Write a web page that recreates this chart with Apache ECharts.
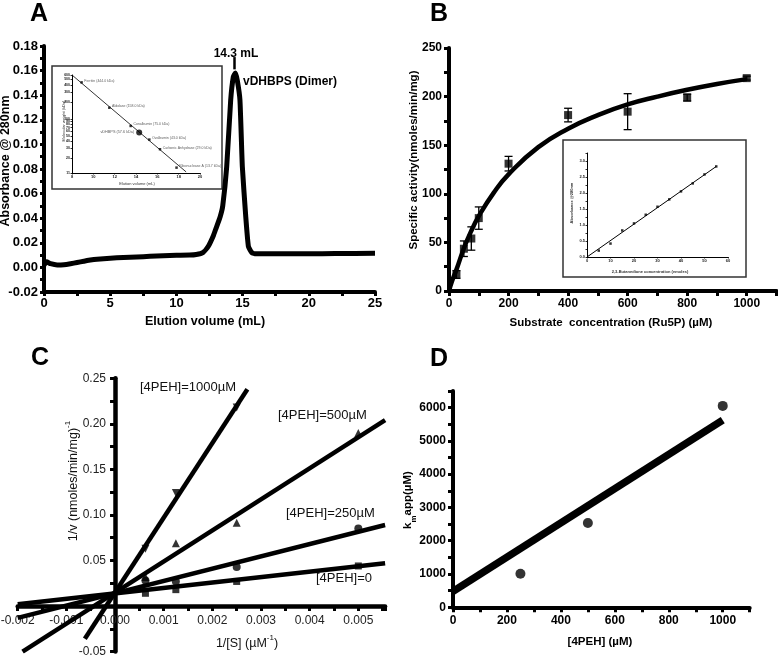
<!DOCTYPE html>
<html><head><meta charset="utf-8">
<script src="https://cdn.jsdelivr.net/npm/echarts@6/dist/echarts.min.js"></script>
<style>html,body{margin:0;padding:0;background:#fff}#c{width:778px;height:655px}</style>
</head><body><div id="c"></div>
<script>
// ---------- Panel A: elution profile ----------
const elutionVolume = [0, 0.2, 0.5, 1.0, 1.5, 2, 2.5, 3, 3.5, 4, 5, 6, 7, 8, 9, 10, 11, 11.5, 12, 12.4, 12.8, 13.0, 13.3, 13.5, 13.8, 14.1, 14.3, 14.45, 14.6, 14.8, 14.98, 15.24, 15.44, 15.7, 16, 18, 20, 22, 25];
const absorbance = [0.002, 0.0045, 0.003, 0.002, 0.0022, 0.003, 0.004, 0.005, 0.006, 0.0067, 0.0075, 0.008, 0.0085, 0.009, 0.0095, 0.0098, 0.010, 0.0105, 0.012, 0.017, 0.026, 0.032, 0.041, 0.050, 0.082, 0.136, 0.155, 0.158, 0.152, 0.136, 0.082, 0.041, 0.017, 0.012, 0.011, 0.011, 0.011, 0.0112, 0.0115];
const peakArrowX = [14.4, 14.4];
const peakArrowY = [0.171, 0.161];
// Panel A inset: calibration
const stdNames = ['Ferritin (444.0 kDa)', 'Aldolase (158.0 kDa)', 'Conalbumin (75.0 kDa)', 'Ovalbumin (43.0 kDa)', 'Carbonic Anhydrase (29.0 kDa)', 'Ribonuclease A (13.7 kDa)'];
const stdVolume = [8.9, 11.5, 13.5, 15.25, 16.25, 17.8];
const stdMW = [444, 158, 75, 43, 29, 13.7];
const sampleName = 'vDHBPS (57.6 kDa)';
const sampleVolume = [14.3];
const sampleMW = [57.6];
const calFitX = [8, 18.7];
const calFitY = [600, 11.5];
const calTicks = [11, 20, 30, 40, 50, 60, 70, 80, 90, 100, 200, 300, 400, 500, 600];

// ---------- Panel B: Michaelis-Menten ----------
const substrate = [25, 50, 75, 100, 200, 400, 600, 800, 1000];
const activity = [17, 43.5, 54, 75, 131, 181, 184.5, 199, 219];
const activityErr = [4, 8, 12, 11.5, 7.5, 7, 18.5, 3.5, 2];
const mmCurveX = [0, 10, 25, 50, 75, 100, 150, 200, 300, 400, 500, 600, 700, 800, 900, 1000];
const mmCurveY = [0, 10, 22, 44, 62, 77, 101, 120, 148, 167, 181, 192, 200, 207, 213, 218];
// Panel B inset: standard curve
const butanedione = [5, 10, 15, 20, 25, 30, 35, 40, 45, 50, 55];
const abs288 = [0.2, 0.42, 0.83, 1.05, 1.32, 1.57, 1.80, 2.05, 2.30, 2.58, 2.83];
const stdLineX = [0, 55];
const stdLineY = [0, 2.83];

// ---------- Panel C: Lineweaver-Burk ----------
const invS = [0.000625, 0.00125, 0.0025, 0.005];
const invV0 = [0.014, 0.018, 0.027, 0.044];
const invV250 = [0.028, 0.027, 0.043, 0.085];
const invV500 = [0.032, 0.069, 0.0915, 0.19];
const invS1000 = [0.000625, 0.00125, 0.0025];
const invV1000 = [0.063, 0.124, 0.218];
const fit0X = [-0.002, 0.00555], fit0Y = [0.002, 0.047];
const fit250X = [-0.002, 0.00555], fit250Y = [-0.013, 0.089];
const fit500X = [-0.0019, 0.00555], fit500Y = [-0.05, 0.204];
const fit1000X = [-0.00062, 0.00272], fit1000Y = [-0.036, 0.238];
const lineNames = ['[4PEH]=0', '[4PEH]=250\u00b5M', '[4PEH]=500\u00b5M', '[4PEH]=1000\u00b5M'];

// ---------- Panel D: Km app ----------
const inhibitor = [250, 500, 1000];
const kmApp = [1010, 2530, 6050];
const kmFitX = [0, 1000];
const kmFitY = [480, 5620];

const FONT = '"Liberation Sans", Arial, sans-serif';
const pts = (xs, ys) => xs.map((x, i) => [x, ys[i]]);
function merge(a, b) {
  const out = Object.assign({}, a);
  for (const k in b) {
    if (b[k] && typeof b[k] === 'object' && !Array.isArray(b[k]) && a[k] && typeof a[k] === 'object' && !Array.isArray(a[k])) out[k] = merge(a[k], b[k]);
    else out[k] = b[k];
  }
  return out;
}
function ax(extra) {
  return merge({
    type: 'value',
    axisLine: { show: true, onZero: false, lineStyle: { color: '#000', width: 4 } },
    axisTick: { show: true, length: 5, lineStyle: { color: '#000', width: 3 } },
    axisLabel: { color: '#000', fontFamily: FONT, fontWeight: 'bold', fontSize: 12, margin: 7 },
    splitLine: { show: false }
  }, extra);
}
function small(extra) {
  return ax(merge({
    z: 4,
    axisLine: { lineStyle: { width: 1 } },
    axisTick: { length: 1.5, lineStyle: { width: 0.8 } },
    axisLabel: { fontSize: 4, margin: 2, color: '#222' }
  }, extra));
}
const isMult = (v, step) => Math.abs(v / step - Math.round(v / step)) < 1e-6;

// Panel C grid geometry (axes cross at the origin)
const gC = { left: 17.7, top: 378.3, width: 367.4, height: 273.3 };
const cX = [-0.002, 0.00555], cY = [-0.05, 0.25];
const cYAxisOffset = -gC.width * (0 - cX[0]) / (cX[1] - cX[0]);
const cXAxisOffset = -gC.height * (0 - cY[0]) / (cY[1] - cY[0]);

const option = {
  animation: false,
  backgroundColor: '#fff',
  grid: [
    { left: 44, top: 46, width: 331, height: 246, outerBoundsMode: 'none' },
    { left: 72, top: 75, width: 128, height: 98, outerBoundsMode: 'none', z: 4 },
    { left: 449, top: 48, width: 327.5, height: 243, outerBoundsMode: 'none' },
    { left: 587, top: 153, width: 141, height: 104, outerBoundsMode: 'none', z: 4 },
    Object.assign({ outerBoundsMode: 'none' }, gC),
    { left: 453, top: 390.9, width: 296.7, height: 216.4, outerBoundsMode: 'none' }
  ],
  xAxis: [
    ax({ gridIndex: 0, min: 0, max: 25, interval: 2.5, axisTick: { length: 4 }, axisLabel: { fontSize: 13, margin: 5, formatter: v => isMult(v, 5) ? String(Math.round(v)) : '' } }),
    small({ gridIndex: 1, min: 8, max: 20, interval: 2 }),
    ax({ gridIndex: 2, min: 0, max: 1100, interval: 100, axisLabel: { formatter: v => (isMult(v, 200) && v <= 1000) ? String(v) : '' } }),
    small({ gridIndex: 3, min: 0, max: 60, interval: 10 }),
    ax({ gridIndex: 4, min: cX[0], max: cX[1], interval: 0.0005, position: 'bottom', offset: cXAxisOffset,
         axisLine: { lineStyle: { width: 4.5 } },
         axisLabel: { fontWeight: 'normal', color: '#222', fontSize: 12, margin: 9,
           formatter: v => { const k = Math.round(v * 2000); return (isMult(v, 0.0005) && k % 2 === 0 && v < 0.0053) ? (k / 2000).toFixed(3) : ''; } } }),
    ax({ gridIndex: 5, min: 0, max: 1100, interval: 100, axisLabel: { formatter: v => (isMult(v, 200) && v <= 1000) ? String(v) : '' } })
  ],
  yAxis: [
    ax({ gridIndex: 0, min: -0.02, max: 0.18, interval: 0.01, axisTick: { length: 4 }, axisLabel: { fontSize: 13, margin: 6, formatter: v => { const k = Math.round(v * 100); return k % 2 === 0 ? (k / 100).toFixed(2) : ''; } } }),
    small({ gridIndex: 1, type: 'log', logBase: 10, min: 11, max: 600,
            axisTick: { customValues: calTicks }, axisLabel: { customValues: calTicks, fontSize: 3.5, formatter: v => String(Math.round(v)) } }),
    ax({ gridIndex: 2, min: 0, max: 250, interval: 25, axisLabel: { formatter: v => isMult(v, 50) ? String(v) : '' } }),
    small({ gridIndex: 3, min: 0, max: 3.25, interval: 0.25, axisLabel: { formatter: v => { const k = Math.round(v * 4); return k % 2 === 0 ? (k / 4).toFixed(1) : ''; } } }),
    ax({ gridIndex: 4, min: cY[0], max: cY[1], interval: 0.025, position: 'left', offset: cYAxisOffset,
         axisLine: { lineStyle: { width: 4.5 } },
         axisLabel: { fontWeight: 'normal', color: '#222', fontSize: 12, margin: 9,
           formatter: v => { const k = Math.round(v * 40); return (k % 2 === 0 && k !== 0) ? (k / 40).toFixed(2) : ''; } } }),
    ax({ gridIndex: 5, min: 0, max: 6500, interval: 500, axisLabel: { formatter: v => isMult(v, 1000) ? String(v) : '' } })
  ],
  series: [
    // Panel A
    { type: 'line', xAxisIndex: 0, yAxisIndex: 0, data: pts(elutionVolume, absorbance), symbol: 'none', smooth: 0.15,
      lineStyle: { color: '#000', width: 5, join: 'round' }, z: 3,
      markLine: { silent: true, symbol: ['none', 'triangle'], symbolSize: [0, 8], label: { show: false },
        lineStyle: { color: '#000', width: 2.5, type: 'solid' },
        data: [[{ coord: [peakArrowX[0], peakArrowY[0]] }, { coord: [peakArrowX[1], peakArrowY[1]] }]] } },
    // Panel A inset
    { type: 'line', xAxisIndex: 1, yAxisIndex: 1, data: pts(calFitX, calFitY), symbol: 'none', z: 5,
      lineStyle: { color: '#000', width: 0.8 } },
    { type: 'scatter', xAxisIndex: 1, yAxisIndex: 1, z: 6, symbol: 'rect', symbolSize: 2.5, itemStyle: { color: '#000' },
      data: stdVolume.map((x, i) => ({ value: [x, stdMW[i]], name: stdNames[i] })),
      label: { show: true, position: 'right', distance: 1.5, offset: [0, -1.5], formatter: p => p.name, fontSize: 3.5, fontFamily: FONT, color: '#333' } },
    { type: 'scatter', xAxisIndex: 1, yAxisIndex: 1, z: 6, symbol: 'circle', symbolSize: 6, itemStyle: { color: '#000' },
      data: sampleVolume.map((x, i) => ({ value: [x, sampleMW[i]], name: sampleName })),
      label: { show: true, position: 'left', distance: 2, formatter: p => p.name, fontSize: 3.8, fontFamily: FONT, color: '#333' } },
    // Panel B
    { type: 'line', xAxisIndex: 2, yAxisIndex: 2, data: pts(mmCurveX, mmCurveY), symbol: 'none', smooth: true,
      lineStyle: { color: '#000', width: 4.5 }, z: 3 },
    { type: 'custom', xAxisIndex: 2, yAxisIndex: 2, z: 4,
      data: substrate.map((x, i) => [x, activity[i], activityErr[i]]),
      renderItem: (params, api) => {
        const x = api.value(0), y = api.value(1), e = api.value(2);
        const t = api.coord([x, y + e]), b = api.coord([x, y - e]);
        const st = { stroke: '#000', lineWidth: 1.3 };
        return { type: 'group', children: [
          { type: 'line', shape: { x1: t[0], y1: t[1], x2: b[0], y2: b[1] }, style: st },
          { type: 'line', shape: { x1: t[0] - 4, y1: t[1], x2: t[0] + 4, y2: t[1] }, style: st },
          { type: 'line', shape: { x1: b[0] - 4, y1: b[1], x2: b[0] + 4, y2: b[1] }, style: st }
        ] };
      } },
    { type: 'scatter', xAxisIndex: 2, yAxisIndex: 2, z: 5, symbol: 'rect', symbolSize: 8, itemStyle: { color: '#000' },
      data: pts(substrate, activity) },
    // Panel B inset
    { type: 'line', xAxisIndex: 3, yAxisIndex: 3, data: pts(stdLineX, stdLineY), symbol: 'none', z: 5,
      lineStyle: { color: '#000', width: 1 } },
    { type: 'scatter', xAxisIndex: 3, yAxisIndex: 3, z: 6, symbol: 'rect', symbolSize: 2.5, itemStyle: { color: '#000' },
      data: pts(butanedione, abs288) },
    // Panel C
    ...[[fit0X, fit0Y], [fit250X, fit250Y], [fit500X, fit500Y], [fit1000X, fit1000Y]].map(f => ({
      type: 'line', xAxisIndex: 4, yAxisIndex: 4, data: pts(f[0], f[1]), symbol: 'none', z: 3,
      lineStyle: { color: '#000', width: 4.5, cap: 'butt' } })),
    { type: 'scatter', xAxisIndex: 4, yAxisIndex: 4, z: 4, symbol: 'rect', symbolSize: 7, itemStyle: { color: '#000' }, data: pts(invS, invV0) },
    { type: 'scatter', xAxisIndex: 4, yAxisIndex: 4, z: 4, symbol: 'circle', symbolSize: 8, itemStyle: { color: '#000' }, data: pts(invS, invV250) },
    { type: 'scatter', xAxisIndex: 4, yAxisIndex: 4, z: 4, symbol: 'triangle', symbolSize: 8, itemStyle: { color: '#000' }, data: pts(invS, invV500) },
    { type: 'scatter', xAxisIndex: 4, yAxisIndex: 4, z: 4, symbol: 'triangle', symbolRotate: 180, symbolSize: 8, itemStyle: { color: '#000' }, data: pts(invS1000, invV1000) },
    // Panel D
    { type: 'line', xAxisIndex: 5, yAxisIndex: 5, data: pts(kmFitX, kmFitY), symbol: 'none', z: 3,
      lineStyle: { color: '#000', width: 7.5, cap: 'butt' } },
    { type: 'scatter', xAxisIndex: 5, yAxisIndex: 5, z: 4, symbol: 'circle', symbolSize: 10, itemStyle: { color: '#000' }, data: pts(inhibitor, kmApp) }
  ],
  graphic: [
    // inset frames
    { type: 'rect', z: 1, shape: { x: 52, y: 66, width: 170, height: 123 }, style: { fill: '#fff', stroke: '#333', lineWidth: 1.5 } },
    { type: 'rect', z: 1, shape: { x: 563, y: 140, width: 183, height: 137 }, style: { fill: '#fff', stroke: '#333', lineWidth: 1.5 } },
    // panel letters
    { type: 'text', z: 10, x: 30, y: 14, style: { text: 'A', font: 'bold 25px ' + FONT, fill: '#000', verticalAlign: 'middle' } },
    { type: 'text', z: 10, x: 430, y: 14, style: { text: 'B', font: 'bold 25px ' + FONT, fill: '#000', verticalAlign: 'middle' } },
    { type: 'text', z: 10, x: 31, y: 358, style: { text: 'C', font: 'bold 25px ' + FONT, fill: '#000', verticalAlign: 'middle' } },
    { type: 'text', z: 10, x: 430, y: 359, style: { text: 'D', font: 'bold 25px ' + FONT, fill: '#000', verticalAlign: 'middle' } },
    // panel A annotations
    { type: 'text', z: 10, x: 236, y: 54, style: { text: '14.3 mL', font: 'bold 12px ' + FONT, fill: '#000', align: 'center', verticalAlign: 'middle' } },
    { type: 'text', z: 10, x: 243, y: 82, style: { text: 'vDHBPS (Dimer)', font: 'bold 12px ' + FONT, fill: '#000', verticalAlign: 'middle' } },
    // axis names A
    { type: 'text', z: 10, x: 6, y: 161, rotation: Math.PI / 2, style: { text: 'Absorbance @ 280nm', font: 'bold 12.5px ' + FONT, fill: '#000', align: 'center', verticalAlign: 'middle' } },
    { type: 'text', z: 10, x: 205, y: 322, style: { text: 'Elution volume (mL)', font: 'bold 12.5px ' + FONT, fill: '#000', align: 'center', verticalAlign: 'middle' } },
    { type: 'text', z: 10, x: 64, y: 121, rotation: Math.PI / 2, style: { text: 'Molecular weight (kDa)', font: '4px ' + FONT, fill: '#333', align: 'center', verticalAlign: 'middle' } },
    { type: 'text', z: 10, x: 137, y: 184, style: { text: 'Elution volume (mL)', font: '4px ' + FONT, fill: '#333', align: 'center', verticalAlign: 'middle' } },
    // axis names B
    { type: 'text', z: 10, x: 414, y: 160, rotation: Math.PI / 2, style: { text: 'Specific activity(nmoles/min/mg)', font: 'bold 11.5px ' + FONT, fill: '#000', align: 'center', verticalAlign: 'middle' } },
    { type: 'text', z: 10, x: 611, y: 323, style: { text: 'Substrate  concentration (Ru5P) (\u00b5M)', font: 'bold 11.5px ' + FONT, fill: '#000', align: 'center', verticalAlign: 'middle' } },
    { type: 'text', z: 10, x: 572, y: 203, rotation: Math.PI / 2, style: { text: 'Absorbance @280nm', font: 'bold 4px ' + FONT, fill: '#333', align: 'center', verticalAlign: 'middle' } },
    { type: 'text', z: 10, x: 650, y: 272, style: { text: '2,3-Butanedione concentration (nmoles)', font: 'bold 4px ' + FONT, fill: '#333', align: 'center', verticalAlign: 'middle' } },
    // panel C labels
    { type: 'text', z: 10, x: 140, y: 387, style: { text: lineNames[3], font: '13px ' + FONT, fill: '#111', verticalAlign: 'middle' } },
    { type: 'text', z: 10, x: 278, y: 415, style: { text: lineNames[2], font: '13px ' + FONT, fill: '#111', verticalAlign: 'middle' } },
    { type: 'text', z: 10, x: 286, y: 513, style: { text: lineNames[1], font: '13px ' + FONT, fill: '#111', verticalAlign: 'middle' } },
    { type: 'text', z: 10, x: 316, y: 578, style: { text: lineNames[0], font: '13px ' + FONT, fill: '#111', verticalAlign: 'middle' } },
    { type: 'text', z: 10, x: 72, y: 481, rotation: Math.PI / 2, style: { text: '{a|1/v (nmoles/min/mg)}{s|-1}', align: 'center', verticalAlign: 'middle',
        rich: { a: { fontSize: 12.5, fontFamily: FONT, fill: '#111', lineHeight: 16, verticalAlign: 'bottom' }, s: { fontSize: 8, fontFamily: FONT, fill: '#111', lineHeight: 16, verticalAlign: 'top' } } } },
    { type: 'text', z: 10, x: 247, y: 642, style: { text: '{a|1/[S] (\u00b5M}{s|-1}{a|)}', align: 'center', verticalAlign: 'middle',
        rich: { a: { fontSize: 12.5, fontFamily: FONT, fill: '#111', lineHeight: 16, verticalAlign: 'bottom' }, s: { fontSize: 8, fontFamily: FONT, fill: '#111', lineHeight: 16, verticalAlign: 'top' } } } },
    // axis names D
    { type: 'text', z: 10, x: 410, y: 500, rotation: Math.PI / 2, style: { text: '{a|k}{s|m}{a|app(\u00b5M)}', align: 'center', verticalAlign: 'middle',
        rich: { a: { fontSize: 11.5, fontWeight: 'bold', fontFamily: FONT, fill: '#000', lineHeight: 16, verticalAlign: 'top' }, s: { fontSize: 8, fontWeight: 'bold', fontFamily: FONT, fill: '#000', lineHeight: 16, verticalAlign: 'bottom' } } } },
    { type: 'text', z: 10, x: 600, y: 642, style: { text: '[4PEH] (\u00b5M)', font: 'bold 11.5px ' + FONT, fill: '#000', align: 'center', verticalAlign: 'middle' } }
  ]
};
const chart = echarts.init(document.getElementById('c'), null, { renderer: 'canvas' });
chart.setOption(option);
</script>
</body></html>
